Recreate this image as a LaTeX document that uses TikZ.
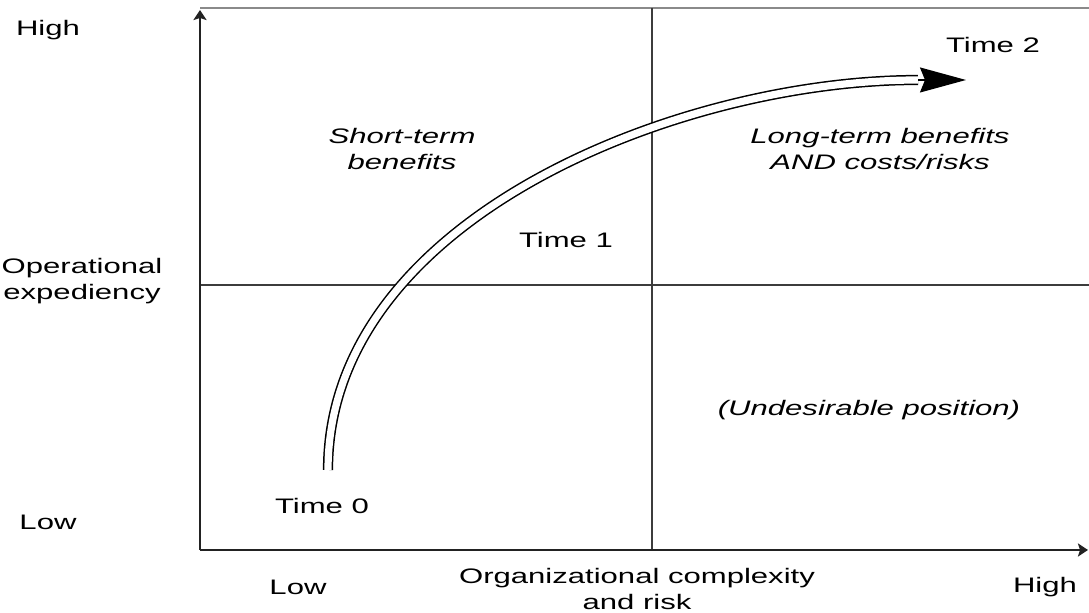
\documentclass[tikz,border=0pt]{standalone}
\usepackage{fontspec}
\setmainfont{Liberation Sans}[FakeStretch=1.48]
\usepackage{tikz}
\usetikzlibrary{arrows.meta,positioning}
\definecolor{axisc}{HTML}{222222}
\definecolor{dividc}{HTML}{3C3C3C}
\definecolor{framec}{HTML}{8A8A8A}
\tikzset{
  % axes end in a small dark tip
  axis/.style    = {-{Stealth[length=5pt, width=6.5pt, inset=1pt]}, line width=1pt, axisc},
  divider/.style = {line width=0.75pt, dividc},
  frame/.style   = {line width=1pt, framec},
  lbl/.style     = {font=\fontsize{10.5}{13}\selectfont, align=center, inner sep=0pt},
  quad/.style    = {lbl, font=\fontsize{10.5}{13}\selectfont\itshape},
  % the path through time: a hollow double stroke with a heavy head
  trail/.style   = {double=white, double distance=3.6pt, line width=0.75pt, black},
  head/.style    = {-{Stealth[length=23pt, width=12.5pt, inset=2.5pt]}, line width=0.75pt, black},
}

\begin{document}
\begin{tikzpicture}[x=0.5pt,y=0.5pt]
\useasboundingbox[fill=white] (0,0) rectangle (1089,613);
% --- reference points -----------------------------------------------------
\coordinate (o)     at (200,63);
\coordinate (ytop)  at (200,603);
\coordinate (xend)  at (1088,63);
\coordinate (ftl)   at (200,605);
\coordinate (ftr)   at (1089,605);
\coordinate (vtop)  at (652,605);
\coordinate (vbot)  at (652,63);
\coordinate (hlft)  at (200,328);
\coordinate (hrgt)  at (1089,328);
% --- frame, dividers and axes ---------------------------------------------
\draw[frame] (ftl) -- (ftr);
\draw[divider] (vtop) -- (vbot);
\draw[divider] (hlft) -- (hrgt);
\draw[axis] (o) -- (ytop);
\draw[axis] (o) -- (xend);
% --- axis labels ----------------------------------------------------------
\node[lbl] (hiY)   at (48,583)  {High};
\node[lbl] (opexp) at (82,332)  {Operational\\expediency};
\node[lbl] (loY)   at (48,91)   {Low};
\node[lbl] (loX)   at (298,26)  {Low};
\node[lbl] (orgrk) at (637,24)  {Organizational complexity\\and risk};
\node[lbl] (hiX)   at (1045,26) {High};
% --- quadrant notes -------------------------------------------------------
\node[quad] (short) at (402,464) {Short-term\\benefits};
\node[quad] (long)  at (880,464) {Long-term benefits\\AND costs/risks};
\node[quad] (undes) at (869,203) {(Undesirable position)};
% --- time marks -----------------------------------------------------------
\node[lbl] (t0) at (322,107) {Time 0};
\node[lbl] (t1) at (566,373) {Time 1};
\node[lbl] (t2) at (993,568) {Time 2};
% --- trajectory -----------------------------------------------------------
\coordinate (tstart) at (328,143);
\coordinate (tbase)  at (918,533);
\coordinate (ttip)   at (966,533);
\draw[trail] (tstart) .. controls (328,395) and (680,533) .. (tbase);
\draw[head] (tbase) -- (ttip);
\end{tikzpicture}
\end{document}
